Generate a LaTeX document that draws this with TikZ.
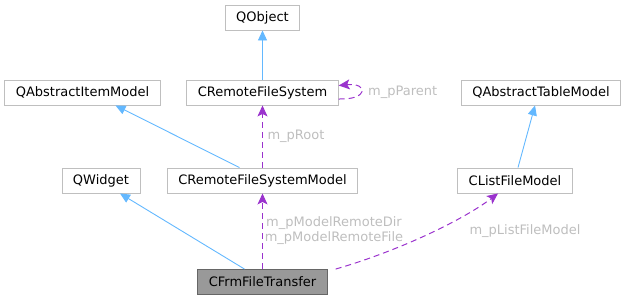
\documentclass[tikz,border=0pt]{standalone}
\usepackage{fontspec}
\setmainfont{DejaVu Sans}
\usetikzlibrary{arrows.meta,calc}
\definecolor{nodeborder}{HTML}{BFBFBF}
\definecolor{mainborder}{HTML}{666666}
\definecolor{mainfill}{HTML}{999999}
\definecolor{inhblue}{HTML}{63B8FF}
\definecolor{usepurple}{HTML}{9A32CD}
\definecolor{lblgrey}{HTML}{BEBEBE}
\tikzset{
  cls/.style={draw=nodeborder, fill=white, line width=0.9bp, inner xsep=11bp, inner ysep=0pt, minimum height=25bp, font=\fontsize{13bp}{15bp}\selectfont, text=black},
  mainclass/.style={cls, draw=mainborder, fill=mainfill},
  inherit/.style={draw=inhblue, line width=0.9bp, -{Triangle[length=10bp,width=9bp]}},
  usage/.style={draw=usepurple, line width=1bp, dash pattern=on 6bp off 4bp, -{Stealth[length=11bp,width=10bp,inset=2.5bp]}},
  lbl/.style={text=lblgrey, font=\fontsize{13bp}{15bp}\selectfont, inner sep=0pt, align=center}
}
\begin{document}
\begin{tikzpicture}[x=1bp,y=-1bp]
\useasboundingbox (0,0) rectangle (627,301);
\node[cls] (qobj) at (262.5,17.5) {QObject};
\node[cls] (crfs) at (262.5,92.5) {CRemoteFileSystem};
\node[cls] (qaim) at (82.5,92.5) {QAbstractItemModel};
\node[cls] (qatm) at (541,92.5) {QAbstractTableModel};
\node[cls] (qw) at (101,180.5) {QWidget};
\node[cls] (crfsm) at (262.5,180.5) {CRemoteFileSystemModel};
\node[cls] (lfm) at (515,180.5) {CListFileModel};
\node[mainclass] (ft) at (262.5,282) {CFrmFileTransfer};

% inheritance
\draw[inherit] (crfs.north) -- (qobj.south);
\draw[inherit] ([xshift=-23bp]crfsm.north) -- ([xshift=33bp]qaim.south);
\draw[inherit] ([xshift=3bp]lfm.north) -- ([xshift=-6bp]qatm.south);
\draw[inherit] ([xshift=-18bp]ft.north) -- ([xshift=19bp]qw.south);

% usage
\draw[usage] ([yshift=-6.5bp]crfs.east) .. controls ++(30bp,-1bp) and ++(30bp,3bp) .. ([yshift=7bp]crfs.east);
\node[lbl, anchor=west] (lparent) at (368,92.5) {m\_pParent};
\draw[usage] (crfsm.north) -- (crfs.south);
\node[lbl] (lroot) at (296,136) {m\_pRoot};
\draw[usage] (ft.north) -- (crfsm.south);
\node[lbl] (lmodel) at (334,230.5) {m\_pModelRemoteDir\\m\_pModelRemoteFile};
\draw[usage] ([xshift=8bp]ft.north east) .. controls (395,252) and (460,222) .. ([xshift=-17bp]lfm.south);
\node[lbl] (llist) at (525,231) {m\_pListFileModel};
\end{tikzpicture}
\end{document}
